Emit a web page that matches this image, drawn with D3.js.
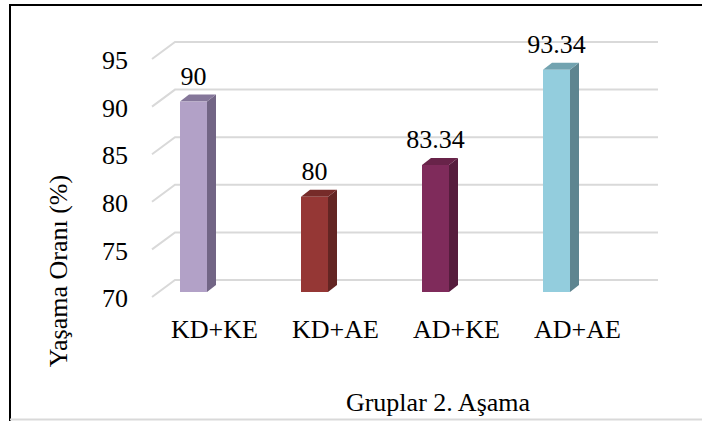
<!DOCTYPE html>
<html>
<head>
<meta charset="utf-8">
<script src="https://cdn.jsdelivr.net/npm/d3@7"></script>
<style>
  html, body { margin: 0; padding: 0; background: #ffffff; }
  svg { display: block; }
  text { font-family: "Liberation Serif", "Times New Roman", serif; fill: #000; }
</style>
</head>
<body>
<svg id="chart" width="702" height="421"></svg>
<script>
// Survival rate per group, stage 2
const categories = ["KD+KE", "KD+AE", "AD+KE", "AD+AE"];
const values = [90, 80, 83.34, 93.34];
const valueLabels = ["90", "80", "83.34", "93.34"];
const tickValues = [70, 75, 80, 85, 90, 95];
const frontColors = ["#b2a1c7", "#953735", "#7f2b5b", "#93cddd"];
const sideColors = ["#726585", "#632523", "#561d3d", "#5e8590"];
const topColors = ["#85779a", "#762b29", "#682349", "#72a3b0"];

const svg = d3.select("#chart");

// back-wall value scale; the 3D floor/wall offsets are applied relative to it
const y = d3.scaleLinear().domain([70, 95]).range([280, 42]);
const x = d3.scaleBand().domain(categories).range([154, 638]).padding(0);

const wallLeft = 175, wallRight = 658;
const edgeDx = -23, edgeDy = 17;      // front edge of the floor relative to the wall
const barFrontDy = 12, barBackDy = 5; // bar faces relative to the wall
const barOffset = 26, barW = 27, barDepthX = 9;

// outer frame
svg.append("line").attr("x1", 10).attr("y1", 5).attr("x2", 702).attr("y2", 5)
  .attr("stroke", "#000").attr("stroke-width", 2);
svg.append("line").attr("x1", 10).attr("y1", 4).attr("x2", 10).attr("y2", 421)
  .attr("stroke", "#000").attr("stroke-width", 2);
svg.append("line").attr("x1", 10).attr("y1", 419.5).attr("x2", 702).attr("y2", 419.5)
  .attr("stroke", "#d9d9d9").attr("stroke-width", 2);

// gridlines: wall line plus slanted floor-side segment
const grid = svg.append("g").attr("fill", "none").attr("stroke", "#d9d9d9").attr("stroke-width", 2);
tickValues.forEach(t => {
  const yy = y(t);
  grid.append("path")
    .attr("d", `M${wallLeft + edgeDx},${yy + edgeDy} L${wallLeft},${yy} L${wallRight},${yy}`);
});

// tick labels
svg.append("g").selectAll("text").data(tickValues).join("text")
  .attr("x", 128).attr("y", d => y(d) + edgeDy + 1)
  .attr("dy", "0.35em")
  .attr("text-anchor", "end")
  .attr("font-size", 26)
  .text(d => d);

// 3D bars
const bars = svg.append("g");
categories.forEach((c, i) => {
  const x0 = x(c) + barOffset, x1 = x0 + barW, x2 = x1 + barDepthX;
  const dz = barFrontDy - barBackDy;
  const yTop = y(values[i]) + barFrontDy;
  const yBot = y(70) + barFrontDy;
  bars.append("path")
    .attr("d", `M${x1},${yTop} L${x2},${yTop - dz} L${x2},${yBot - dz} L${x1},${yBot} Z`)
    .attr("fill", sideColors[i]);
  bars.append("path")
    .attr("d", `M${x0},${yTop} L${x0 + barDepthX},${yTop - dz} L${x2},${yTop - dz} L${x1},${yTop} Z`)
    .attr("fill", topColors[i]);
  bars.append("rect")
    .attr("x", x0).attr("y", yTop)
    .attr("width", barW).attr("height", yBot - yTop)
    .attr("fill", frontColors[i]);
  svg.append("text")
    .attr("x", x0 + barW / 2).attr("y", yTop - 17)
    .attr("text-anchor", "middle")
    .attr("font-size", 26)
    .text(valueLabels[i]);
});

// category labels
svg.append("g").selectAll("text").data(categories).join("text")
  .attr("x", d => x(d) + x.bandwidth() / 2)
  .attr("y", 338)
  .attr("text-anchor", "middle")
  .attr("font-size", 26)
  .text(d => d);

// axis titles
svg.append("text")
  .attr("transform", "translate(67,271) rotate(-90)")
  .attr("text-anchor", "middle")
  .attr("font-size", 26)
  .text("Yaşama Oranı (%)");

svg.append("text")
  .attr("x", 438).attr("y", 411)
  .attr("text-anchor", "middle")
  .attr("font-size", 26)
  .text("Gruplar 2. Aşama");
</script>
</body>
</html>
